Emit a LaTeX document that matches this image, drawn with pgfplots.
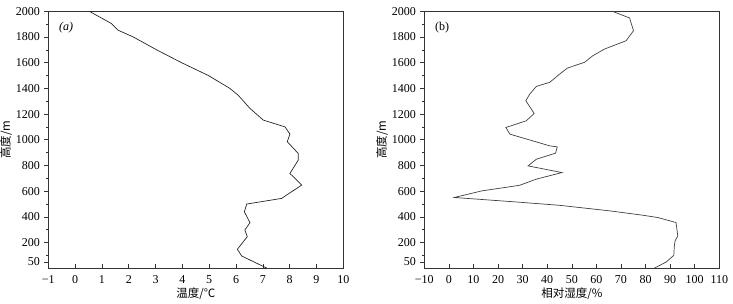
\documentclass[border=0pt]{standalone}
\usepackage{fontspec}
\setmainfont{Liberation Serif}
\newfontfamily\cjk{Noto Sans CJK SC}
\usepackage{pgfplots}
\pgfplotsset{compat=1.18}
\begin{document}
\begin{tikzpicture}
\path[use as bounding box] (0pt,0pt) rectangle (733pt,304pt);
\pgfplotsset{
  myax/.style={
    scale only axis, width=295pt, height=257pt,
    anchor=south west,
    ymin=0, ymax=2000,
    ytick={50,200,400,600,800,1000,1200,1400,1600,1800,2000},
    minor ytick={100,300,500,700,900,1100,1300,1500,1700,1900},
    tick align=outside,
    major tick length=4pt, minor tick length=2.5pt,
    x tick style={yshift=4pt},
    xtick pos=bottom, ytick pos=left,
    axis line style={line width=0.7pt, black!80},
    tick style={line width=0.6pt, black!80},
    tick label style={font=\fontsize{12}{13}\selectfont},
    /pgf/number format/assume math mode=true,
    /pgf/number format/1000 sep={},
    xticklabel={\pgfmathtruncatemacro\tt{\tick}\ifnum\tt<0 −\pgfmathtruncatemacro\ta{abs(\tt)}\ta\else\tt\fi},
    yticklabel={\pgfmathtruncatemacro\tt{\tick}\tt},
    yticklabel style={xshift=-1pt},
    ylabel={\cjk\fontsize{11.5}{12}\selectfont 高度/m},
    ylabel style={yshift=-3pt},
    xlabel style={yshift=3pt},
    clip=false,
  }
}
\begin{axis}[myax, at={(48.3pt,35.7pt)},
  xmin=-1, xmax=10, xtick={-1,0,...,10},
  xlabel={\cjk\fontsize{11.5}{12}\selectfont 温度/℃}]
\addplot[black!85, line width=0.7pt] coordinates {
(7.16,0) (6.21,96) (6.05,148) (6.42,246) (6.33,298) (6.52,355) (6.31,440)
(6.40,500) (7.70,544) (8.45,648) (8.01,738) (8.32,842) (8.32,894)
(7.91,985) (8.01,1044) (7.83,1100) (7.02,1153) (6.52,1244) (6.08,1347)
(5.77,1400) (4.97,1500) (3.97,1600) (3.04,1700) (2.17,1800) (1.61,1852)
(1.36,1904) (0.53,2000)};
\node[anchor=west, font=\itshape\fontsize{12}{13}\selectfont] at (rel axis cs:0.025,0.935) {(a)};
\end{axis}
\begin{axis}[myax, at={(424.3pt,35.7pt)},
  xmin=-10, xmax=110, xtick={-10,0,...,110},
  xlabel={\cjk\fontsize{11.5}{12}\selectfont 相对湿度/\%}]
\addplot[black!75, line width=0.7pt] coordinates {
(83.5,0) (88.4,49) (91.5,101) (91.7,174) (92.0,213) (93.1,252) (92.4,356)
(85.0,395) (78.9,413) (65.4,447) (45.1,490) (27.5,516) (2.2,551)
(13.3,602) (28.8,646) (35.6,694) (46.0,745) (32.2,797) (35.6,849)
(43.4,896) (44.1,945) (41.0,953) (24.8,1044) (23.2,1096) (31.5,1148)
(34.7,1205) (31.3,1304) (32.9,1356) (35.6,1416) (41.0,1447) (45.1,1512)
(48.2,1558) (55.2,1603) (58.6,1655) (63.3,1706) (72.1,1771) (75.1,1849)
(73.5,1948) (66.5,2000)};
\node[anchor=west, font=\fontsize{12}{13}\selectfont] at (rel axis cs:0.025,0.935) {(b)};
\end{axis}
\end{tikzpicture}
\end{document}
